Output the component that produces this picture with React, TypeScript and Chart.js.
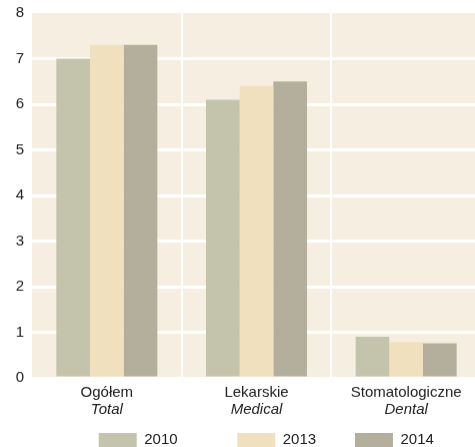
import React, { useEffect, useRef } from 'react';
import { Chart, registerables } from 'chart.js';

Chart.register(...registerables);

const categories = ['Ogółem', 'Lekarskie', 'Stomatologiczne'];
const categoriesEn = ['Total', 'Medical', 'Dental'];
const seriesNames = ['2010', '2013', '2014'];
const values2010 = [7.0, 6.1, 0.9];
const values2013 = [7.3, 6.4, 0.78];
const values2014 = [7.3, 6.5, 0.76];
const yMin = 0;
const yMax = 8;
const yStep = 1;

const colors = ['#c4c4ad', '#f0e0be', '#b4af9d'];
const legendSpaces = [10, 5, 7];
const FONT = "'Liberation Sans', Arial, sans-serif";
const TEXT = '#222222';

const plotBg = {
  id: 'plotBg',
  beforeDraw(chart: any) {
    const { ctx, chartArea } = chart;
    ctx.save();
    ctx.fillStyle = '#f6efe1';
    ctx.fillRect(chartArea.left, chartArea.top, chartArea.right - chartArea.left, chartArea.bottom - chartArea.top);
    ctx.restore();
  },
};

export default function App() {
  const ref = useRef<HTMLCanvasElement>(null);
  useEffect(() => {
    document.body.style.overflow = 'hidden';
    const seriesValues = [values2010, values2013, values2014];
    const chart = new Chart(ref.current as HTMLCanvasElement, {
      type: 'bar',
      data: {
        labels: categories,
        datasets: seriesNames.map((name, i) => ({
          label: name,
          data: seriesValues[i],
          backgroundColor: colors[i],
          borderWidth: 0,
          categoryPercentage: 0.675,
          barPercentage: 1,
          xAxisID: 'x',
        })),
      },
      options: {
        animation: false,
        responsive: true,
        maintainAspectRatio: false,
        layout: { padding: { top: 13, left: 0, right: 0, bottom: 0 } },
        plugins: {
          tooltip: { enabled: false },
          legend: {
            position: 'bottom',
            align: 'end',
            labels: {
              boxWidth: 38,
              boxHeight: 14,
              padding: 18,
              color: TEXT,
              font: { family: FONT, size: 15 },
              generateLabels(chart: any) {
                const items = Chart.defaults.plugins.legend.labels.generateLabels(chart);
                return items.map((it: any, i: number) => ({
                  ...it,
                  text: it.text + ' '.repeat(legendSpaces[i]),
                  lineWidth: 0,
                }));
              },
            },
          },
        },
        scales: {
          x: {
            type: 'category',
            position: 'bottom',
            weight: 0,
            afterFit: (s: any) => { s.height = 23; },
            grid: {
              offset: true,
              drawTicks: false,
              lineWidth: 2,
              color: (c: any) => (c.index === 0 ? 'rgba(0,0,0,0)' : '#ffffff'),
            },
            border: { display: false },
            ticks: { color: TEXT, font: { family: FONT, size: 15 }, padding: 6, maxRotation: 0 },
          },
          x2: {
            type: 'category',
            position: 'bottom',
            weight: 1,
            labels: categoriesEn,
            afterFit: (s: any) => { s.height = 13.5; },
            grid: { display: false, drawTicks: false },
            border: { display: false },
            ticks: { color: TEXT, font: { family: FONT, size: 15, style: 'italic' }, padding: -0.5, maxRotation: 0 },
          },
          y: {
            min: yMin,
            max: yMax,
            afterFit: (s: any) => { s.width = 32; },
            grid: {
              drawTicks: false,
              lineWidth: 3,
              color: (c: any) => (c.tick && c.tick.value === yMax ? 'rgba(0,0,0,0)' : '#ffffff'),
            },
            border: { display: false },
            ticks: { stepSize: yStep, color: TEXT, font: { family: FONT, size: 15, lineHeight: 0.6 }, padding: 8 },
          },
        },
      },
      plugins: [plotBg],
    });
    return () => chart.destroy();
  }, []);
  return (
    <div style={{ position: 'fixed', left: 0, top: 0, width: 481, height: 456.5 }}>
      <canvas ref={ref} />
    </div>
  );
}
